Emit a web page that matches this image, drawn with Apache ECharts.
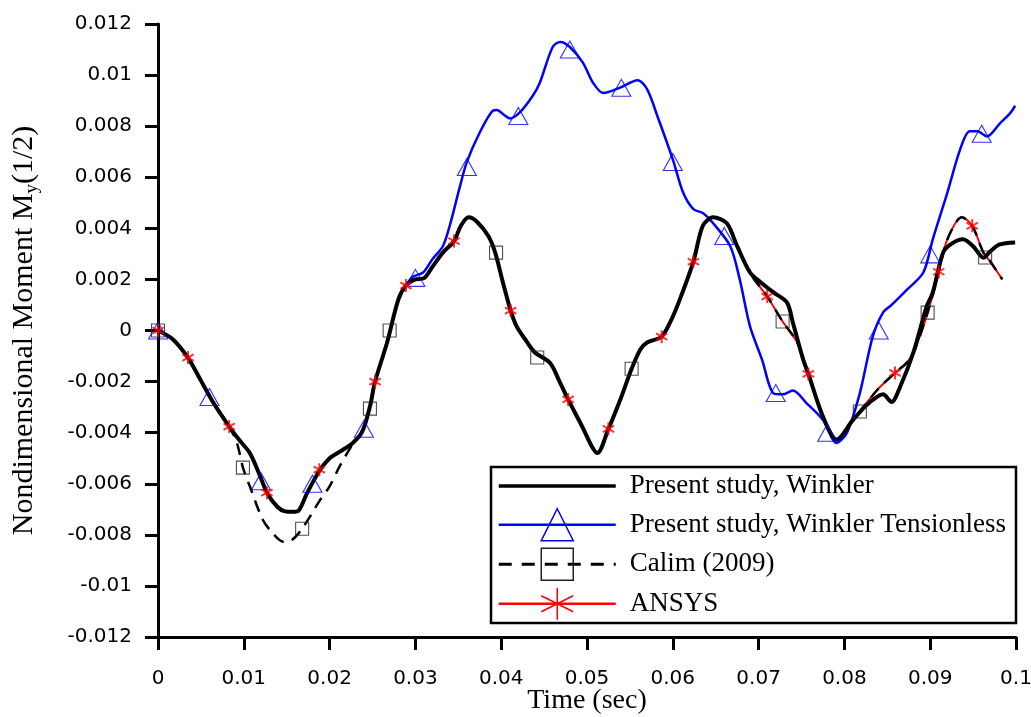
<!DOCTYPE html>
<html lang="en">
<head>
    <meta charset="UTF-8">
    <title>index</title>
    <script src="https://cdn.jsdelivr.net/npm/echarts@6/dist/echarts.min.js"></script>
    <style>
        html, body { margin: 0; padding: 0; background: #fff; }
    </style>
</head>
<body>
<div id="main" style="width: 1031px;height:717px;"></div>

<script type="text/javascript">
    // every point is [time in ms, moment x 1e-3]
    var winkler = [
        [0, 0], [1.75, -0.35], [3.5, -1.07], [4.9, -1.9], [6.4, -2.8], [8.3, -3.76], [9.5, -4.3],
        [10.7, -4.8], [11.9, -5.7], [12.7, -6.35], [13.9, -6.9], [14.8, -7.08], [15.7, -7.1],
        [16.4, -7.05], [17.4, -6.35], [18.8, -5.5], [20, -5.0], [21.2, -4.74], [22.7, -4.4],
        [23.8, -3.96], [24.7, -2.98], [25.3, -2.0], [26.7, -0.47], [28, 1.2], [28.9, 1.76],
        [30, 2.0], [31, 2.05], [32, 2.5], [33.2, 3.05], [34.5, 3.5], [35.3, 4.1], [36.2, 4.43],
        [37.2, 4.25], [38.5, 3.7], [39.3, 3.05], [40.2, 1.88], [41.1, 0.78], [41.8, 0.16],
        [42.8, -0.35], [43.9, -0.85], [45.7, -1.27], [46.8, -2.0], [47.8, -2.7], [49.5, -3.8],
        [50.5, -4.5], [51.2, -4.8], [52.5, -3.85], [54, -2.6], [55.2, -1.5], [56.2, -0.75],
        [57, -0.47], [58.7, -0.24], [59.8, 0.4], [60.8, 1.2], [62.4, 2.7], [63.5, 4.1],
        [64.7, 4.43], [66.3, 4.2], [67.5, 3.3], [69, 2.27], [70.2, 1.9], [71.7, 1.5], [73.3, 1.1],
        [74, 0.3], [75.2, -1.14], [75.8, -1.7], [77.5, -3.37], [79.1, -4.27], [81, -3.5],
        [82.5, -2.95], [83.8, -2.6], [84.5, -2.5], [85.5, -2.8], [86.5, -2.2], [88, -0.9],
        [89.6, 0.95], [90.3, 1.48], [91.5, 3.05], [92.5, 3.4], [93.8, 3.57], [95, 3.3],
        [96.2, 2.85], [97, 3.1], [98.1, 3.37], [99.9, 3.45]
    ];

    // tensionless follows winkler up to ~29 ms
    var tensionlessRest = [
        [29.7, 2.1], [30.9, 2.27], [32, 2.8], [33.2, 3.3], [34, 4.1], [35.2, 5.65], [36, 6.6],
        [37.5, 7.75], [39, 8.6], [39.5, 8.63], [40.3, 8.45], [41, 8.3], [42.2, 8.55], [43.7, 9.2],
        [44.5, 9.7], [46, 11.1], [46.9, 11.3], [48, 11.1], [49.5, 10.5], [50.7, 9.7], [51.9, 9.3],
        [53.8, 9.5], [55.9, 9.8], [57, 9.45], [58.2, 8.4], [60, 6.7], [61.2, 5.4], [62.4, 4.75],
        [63.5, 4.6], [64.7, 4.2], [66.7, 3.3], [67.8, 2.0], [69, 0.16], [70.4, -1.14],
        [71.7, -2.45], [72.8, -2.5], [74, -2.35], [75.6, -2.85], [77.5, -3.5], [79.1, -4.4],
        [80.3, -4.0], [81.8, -2.45], [83.3, -0.24], [84.5, 0.7], [85.5, 1.0], [87.3, 1.6],
        [89.2, 2.27], [90.3, 3.57], [92, 5.4], [93.5, 7.1], [94.6, 7.8], [95.5, 7.8],
        [96.6, 7.6], [98.1, 8.1], [99.3, 8.5], [99.9, 8.8]
    ];

    // Calim (2009) dips lower between 9 and 23 ms
    var calimDip = [
        [9.2, -4.4], [9.9, -5.37], [10.7, -6.1], [12.2, -7.4], [13.4, -7.95], [14.6, -8.27],
        [15.6, -8.2], [16.8, -7.76], [18.9, -6.63], [20, -6.1], [21.2, -5.3], [22.6, -4.5]
    ];

    // Calim and ANSYS share this part after 69 ms
    var lateRun = [
        [69.5, 2.0], [71, 1.33], [72.8, 0.35], [74.5, -0.47], [75.8, -1.7], [77.5, -3.37],
        [79.1, -4.27], [81, -3.5], [81.8, -3.17], [83.9, -2.3], [85.9, -1.66], [87.3, -1.25],
        [88.2, -0.75], [89.7, 0.7], [91, 2.3], [92, 3.57], [93.7, 4.43], [94.9, 4.1],
        [96.2, 3.05], [97, 2.7], [98.4, 2.0]
    ];

    var triangleMarks = [
        [0, 0], [6, -2.6], [12, -5.9], [18, -6.0], [24, -3.85], [30, 2.06], [36, 6.4], [42, 8.4],
        [48, 11.0], [54, 9.5], [60, 6.6], [66, 3.7], [72, -2.45], [78, -4.0], [84, 0], [90, 2.98],
        [96, 7.7]
    ];
    var squareMarks = [
        [0, 0], [9.9, -5.37], [16.8, -7.76], [24.7, -3.06], [27, 0], [39.4, 3.05], [44.2, -1.06],
        [55.2, -1.5], [72.8, 0.35], [81.8, -3.17], [89.7, 0.7], [96.4, 2.86]
    ];
    var starMarks = [
        [0, 0], [3.5, -1.06], [8.3, -3.76], [12.7, -6.35], [18.8, -5.45], [25.3, -2.0],
        [28.9, 1.76], [34.5, 3.5], [41.1, 0.78], [47.8, -2.7], [52.5, -3.85], [58.7, -0.24],
        [62.4, 2.7], [71, 1.33], [75.8, -1.7], [85.9, -1.66], [91, 2.3], [94.9, 4.1]
    ];

    var names = ['Present study, Winkler', 'Present study, Winkler Tensionless', 'Calim (2009)', 'ANSYS'];

    function toXY(arr) {
        return arr.map(function (p) { return [p[0] / 1000, p[1] / 1000]; });
    }
    function before(t) { return winkler.filter(function (p) { return p[0] <= t; }); }
    function between(a, b) { return winkler.filter(function (p) { return p[0] >= a && p[0] <= b; }); }

    var tensionless = before(28.9).concat(tensionlessRest);
    var calim = before(8.3).concat(calimDip, between(23.8, 69), lateRun);
    var ansys = before(69).concat(lateRun);

    var star = 'path://M10,0L10,20M1.34,5L18.66,15M1.34,15L18.66,5';
    var labelFont = 'DejaVu Sans';
    var serif = 'Liberation Serif, Times New Roman, serif';

    var myChart = echarts.init(document.getElementById('main'));

    var option = {
        animation: false,
        backgroundColor: '#fff',
        grid: { left: 158, right: 15, top: 24, bottom: 80, containLabel: false, outerBoundsMode: 'none' },
        xAxis: {
            type: 'value',
            min: 0, max: 0.1, interval: 0.01,
            name: 'Time (sec)',
            nameLocation: 'middle',
            nameGap: 50,
            nameMoveOverlap: false,
            nameTextStyle: { fontFamily: serif, fontSize: 28, color: '#000' },
            axisLine: { onZero: false, lineStyle: { color: '#000', width: 3 } },
            axisTick: { length: 13, lineStyle: { color: '#000', width: 3 } },
            axisLabel: {
                margin: 32, color: '#000', fontFamily: labelFont, fontSize: 20,
                formatter: function (v) { return String(parseFloat(v.toFixed(2))); }
            },
            splitLine: { show: false }
        },
        yAxis: {
            type: 'value',
            min: -0.012, max: 0.012, interval: 0.002,
            name: 'Nondimensional Moment M{s|y}(1/2)',
            nameLocation: 'middle',
            nameRotate: 90,
            nameGap: 116,
            nameTextStyle: {
                fontFamily: serif, fontSize: 30, color: '#000', lineHeight: 36,
                rich: { s: { fontFamily: serif, fontSize: 19, lineHeight: 19, verticalAlign: 'bottom', color: '#000' } }
            },
            axisLine: { onZero: false, lineStyle: { color: '#000', width: 3 } },
            axisTick: { length: 13, lineStyle: { color: '#000', width: 3 } },
            axisLabel: {
                margin: 26, color: '#000', fontFamily: labelFont, fontSize: 20,
                formatter: function (v) { return String(parseFloat(v.toFixed(3))); }
            },
            splitLine: { show: false }
        },
        graphic: [{
            type: 'rect', z: 50,
            shape: { x: 491, y: 467, width: 525, height: 156 },
            style: { fill: '#fff', stroke: '#000', lineWidth: 2.5 }
        }],
        legend: {
            data: [
                { name: names[0], itemStyle: { opacity: 0 }, lineStyle: { width: 3.5 } },
                { name: names[1], lineStyle: { width: 2.5 } },
                { name: names[2], lineStyle: { width: 3, type: [13, 10] } },
                { name: names[3], lineStyle: { width: 2.5 } }
            ],
            orient: 'vertical',
            left: 497, top: 470,
            padding: 0,
            itemWidth: 117, itemHeight: 40, itemGap: 6,
            z: 60,
            itemStyle: { borderWidth: 1.5 },
            textStyle: { fontFamily: serif, fontSize: 27, color: '#000', padding: [0, 0, 0, 9] }
        },
        series: [
            {
                name: names[0], type: 'line', z: 5,
                data: toXY(winkler), smooth: 0.3, symbol: 'none',
                lineStyle: { color: '#000', width: 4 },
                itemStyle: { color: '#000' }
            },
            {
                name: names[1], type: 'line', z: 4,
                data: toXY(tensionless), smooth: 0.3,
                symbol: 'triangle', showSymbol: false,
                lineStyle: { color: '#0000ff', width: 2.5 },
                itemStyle: { color: 'rgba(0,0,0,0)', borderColor: '#0000ff', borderWidth: 1.2 }
            },
            {
                name: names[2], type: 'line', z: 3,
                data: toXY(calim), smooth: 0.3,
                symbol: 'rect', showSymbol: false,
                lineStyle: { color: '#000', width: 2.5, type: [12, 8] },
                itemStyle: { color: 'rgba(0,0,0,0)', borderColor: '#222', borderWidth: 1.2 }
            },
            {
                name: names[3], type: 'line', z: 2,
                data: toXY(ansys), smooth: 0.3,
                symbol: star, symbolKeepAspect: true, showSymbol: false,
                lineStyle: { color: '#ff0000', width: 2 },
                itemStyle: { color: 'rgba(0,0,0,0)', borderColor: '#ff0000', borderWidth: 1.5 }
            },
            {
                name: 'triangleMarks', type: 'scatter', z: 6,
                data: toXY(triangleMarks), symbol: 'triangle', symbolSize: [19, 17],
                itemStyle: { color: 'rgba(0,0,0,0)', borderColor: '#0000ff', borderWidth: 1.1 }
            },
            {
                name: 'squareMarks', type: 'scatter', z: 6,
                data: toXY(squareMarks), symbol: 'rect', symbolSize: 13,
                itemStyle: { color: 'rgba(0,0,0,0)', borderColor: '#222', borderWidth: 1.1 }
            },
            {
                name: 'starMarks', type: 'scatter', z: 7,
                data: toXY(starMarks), symbol: star, symbolKeepAspect: true, symbolSize: 13,
                itemStyle: { color: 'rgba(0,0,0,0)', borderColor: '#ff0000', borderWidth: 2 }
            }
        ]
    };

    myChart.setOption(option);
</script>
</body>
</html>
